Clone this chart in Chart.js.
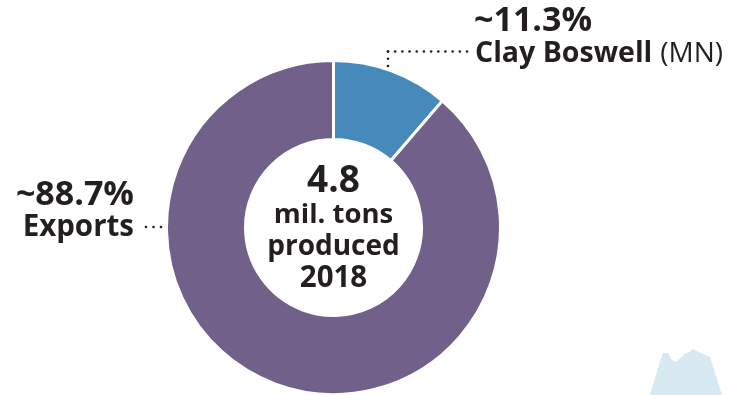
<!DOCTYPE html>
<html>
<head>
<meta charset="utf-8">
<style>
  html, body { margin: 0; padding: 0; background: #fff; overflow: hidden; }
  #wrap { position: relative; width: 745px; height: 395px; overflow: hidden; }
  #peak { position: absolute; left: 0; top: 0; }
  canvas { position: absolute; left: 0; top: 0; }
</style>
<script src="https://cdn.jsdelivr.net/npm/chart.js@4"></script>
</head>
<body>
<div id="wrap">
  <svg id="peak" width="745" height="395">
    <polygon fill="#d9e9f2" points="650,395 662.7,353 668,353 672,360 676,361.7 686,353 690,352 692,348.7 710,357 722,395"></polygon>
  </svg>
  <canvas id="chart" width="745" height="400"></canvas>
</div>
<script>
const categories = ['Clay Boswell (MN)', 'Exports'];
const shares = [11.3, 88.7];
const sliceColors = ['#4689bb', '#70608a'];
const centerTotal = '4.8';
const centerLines = ['mil. tons', 'produced', '2018'];

const INK = '#231f20';
const FACE = '"Open Sans", "Noto Sans", sans-serif';

// Callouts, centre text and dotted leaders are painted over the finished ring.
const annotations = {
  id: 'annotations',
  afterDraw(chart) {
    const { ctx } = chart;
    const ring = chart.getDatasetMeta(0).data[0];
    const cx = ring.x;

    const text = (str, x, y, font, align) => {
      ctx.font = font;
      ctx.textAlign = align;
      ctx.textBaseline = 'alphabetic';
      ctx.fillStyle = INK;
      ctx.fillText(str, x, y);
    };
    const dots = (x1, y1, x2, y2, gap) => {
      const n = Math.round(Math.hypot(x2 - x1, y2 - y1) / gap);
      ctx.fillStyle = INK;
      for (let i = 0; i <= n; i++) {
        ctx.beginPath();
        ctx.arc(x1 + (x2 - x1) * i / n, y1 + (y2 - y1) * i / n, 1.3, 0, Math.PI * 2);
        ctx.fill();
      }
    };

    ctx.save();
    text(centerTotal, cx, 192, '700 37px ' + FACE, 'center');
    text(centerLines[0], cx, 223, '700 27.5px ' + FACE, 'center');
    text(centerLines[1], cx, 255, '700 28px ' + FACE, 'center');
    text(centerLines[2], cx, 287, '700 29.5px ' + FACE, 'center');

    text('~' + shares[0] + '%', 474, 31, '700 34px ' + FACE, 'left');
    text('Clay Boswell', 475, 62, '700 28.5px ' + FACE, 'left');
    ctx.font = '700 28.5px ' + FACE;
    const nameWidth = ctx.measureText('Clay Boswell').width;
    text('(MN)', 475 + nameWidth + 8, 62, '400 28px ' + FACE, 'left');

    text('~' + shares[1] + '%', 134, 205, '700 34px ' + FACE, 'right');
    text(categories[1], 134, 236, '700 29.5px ' + FACE, 'right');

    dots(467, 51.5, 388, 51.5, 7.2);
    dots(388, 51.5, 388, 66, 7);
    dots(146, 227, 161, 227, 7.5);
    ctx.restore();
  }
};

new Chart(document.getElementById('chart'), {
  type: 'doughnut',
  data: {
    labels: categories,
    datasets: [{
      data: shares,
      backgroundColor: sliceColors,
      borderColor: '#ffffff',
      borderWidth: 3
    }]
  },
  options: {
    responsive: false,
    animation: false,
    cutout: '52.7%',
    layout: { padding: { left: 160, right: 238, top: 59, bottom: 4 } },
    plugins: { legend: { display: false }, tooltip: { enabled: false } }
  },
  plugins: [annotations]
});
</script>
</body>
</html>
